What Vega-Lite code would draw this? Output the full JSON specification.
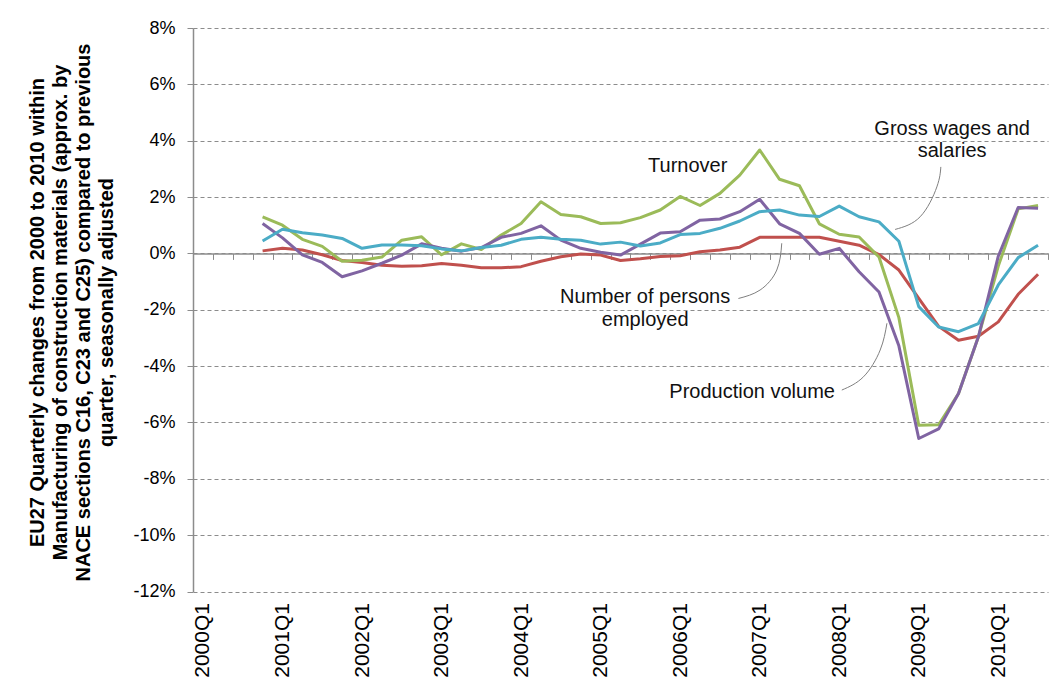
{
  "$schema": "https://vega.github.io/schema/vega-lite/v6.json",
  "width": 855,
  "height": 563.5,
  "autosize": {"type": "none"},
  "padding": {"left": 193, "top": 28, "right": 6, "bottom": 100.5},
  "background": "white",
  "config": {
    "view": {"stroke": null},
    "font": "Liberation Sans",
    "axis": {"labelFont": "Liberation Sans", "titleFont": "Liberation Sans", "labelColor": "#000000", "titleColor": "#000000"}
  },
  "datasets": {
    "series": [
      {"quarter": "2000Q4", "t": 3, "Turnover": 1.30, "Production volume": 1.06, "Gross wages and salaries": 0.44, "Number of persons employed": 0.09},
      {"quarter": "2001Q1", "t": 4, "Turnover": 1.00, "Production volume": 0.55, "Gross wages and salaries": 0.86, "Number of persons employed": 0.18},
      {"quarter": "2001Q2", "t": 5, "Turnover": 0.50, "Production volume": -0.05, "Gross wages and salaries": 0.73, "Number of persons employed": 0.12},
      {"quarter": "2001Q3", "t": 6, "Turnover": 0.25, "Production volume": -0.32, "Gross wages and salaries": 0.65, "Number of persons employed": -0.05},
      {"quarter": "2001Q4", "t": 7, "Turnover": -0.28, "Production volume": -0.83, "Gross wages and salaries": 0.53, "Number of persons employed": -0.25},
      {"quarter": "2002Q1", "t": 8, "Turnover": -0.24, "Production volume": -0.62, "Gross wages and salaries": 0.18, "Number of persons employed": -0.32},
      {"quarter": "2002Q2", "t": 9, "Turnover": -0.13, "Production volume": -0.35, "Gross wages and salaries": 0.30, "Number of persons employed": -0.42},
      {"quarter": "2002Q3", "t": 10, "Turnover": 0.47, "Production volume": -0.06, "Gross wages and salaries": 0.30, "Number of persons employed": -0.46},
      {"quarter": "2002Q4", "t": 11, "Turnover": 0.59, "Production volume": 0.34, "Gross wages and salaries": 0.27, "Number of persons employed": -0.44},
      {"quarter": "2003Q1", "t": 12, "Turnover": -0.05, "Production volume": 0.18, "Gross wages and salaries": 0.16, "Number of persons employed": -0.36},
      {"quarter": "2003Q2", "t": 13, "Turnover": 0.34, "Production volume": 0.08, "Gross wages and salaries": 0.09, "Number of persons employed": -0.42},
      {"quarter": "2003Q3", "t": 14, "Turnover": 0.14, "Production volume": 0.21, "Gross wages and salaries": 0.21, "Number of persons employed": -0.51},
      {"quarter": "2003Q4", "t": 15, "Turnover": 0.65, "Production volume": 0.57, "Gross wages and salaries": 0.29, "Number of persons employed": -0.51},
      {"quarter": "2004Q1", "t": 16, "Turnover": 1.06, "Production volume": 0.71, "Gross wages and salaries": 0.50, "Number of persons employed": -0.47},
      {"quarter": "2004Q2", "t": 17, "Turnover": 1.83, "Production volume": 0.98, "Gross wages and salaries": 0.57, "Number of persons employed": -0.28},
      {"quarter": "2004Q3", "t": 18, "Turnover": 1.38, "Production volume": 0.47, "Gross wages and salaries": 0.50, "Number of persons employed": -0.12},
      {"quarter": "2004Q4", "t": 19, "Turnover": 1.30, "Production volume": 0.18, "Gross wages and salaries": 0.47, "Number of persons employed": -0.02},
      {"quarter": "2005Q1", "t": 20, "Turnover": 1.06, "Production volume": 0.04, "Gross wages and salaries": 0.33, "Number of persons employed": -0.06},
      {"quarter": "2005Q2", "t": 21, "Turnover": 1.09, "Production volume": -0.06, "Gross wages and salaries": 0.40, "Number of persons employed": -0.25},
      {"quarter": "2005Q3", "t": 22, "Turnover": 1.27, "Production volume": 0.33, "Gross wages and salaries": 0.26, "Number of persons employed": -0.19},
      {"quarter": "2005Q4", "t": 23, "Turnover": 1.54, "Production volume": 0.72, "Gross wages and salaries": 0.37, "Number of persons employed": -0.11},
      {"quarter": "2006Q1", "t": 24, "Turnover": 2.02, "Production volume": 0.77, "Gross wages and salaries": 0.67, "Number of persons employed": -0.08},
      {"quarter": "2006Q2", "t": 25, "Turnover": 1.70, "Production volume": 1.18, "Gross wages and salaries": 0.71, "Number of persons employed": 0.06},
      {"quarter": "2006Q3", "t": 26, "Turnover": 2.13, "Production volume": 1.22, "Gross wages and salaries": 0.89, "Number of persons employed": 0.12},
      {"quarter": "2006Q4", "t": 27, "Turnover": 2.78, "Production volume": 1.48, "Gross wages and salaries": 1.15, "Number of persons employed": 0.22},
      {"quarter": "2007Q1", "t": 28, "Turnover": 3.67, "Production volume": 1.92, "Gross wages and salaries": 1.48, "Number of persons employed": 0.57},
      {"quarter": "2007Q2", "t": 29, "Turnover": 2.63, "Production volume": 1.05, "Gross wages and salaries": 1.54, "Number of persons employed": 0.57},
      {"quarter": "2007Q3", "t": 30, "Turnover": 2.40, "Production volume": 0.71, "Gross wages and salaries": 1.36, "Number of persons employed": 0.57},
      {"quarter": "2007Q4", "t": 31, "Turnover": 1.05, "Production volume": -0.03, "Gross wages and salaries": 1.31, "Number of persons employed": 0.57},
      {"quarter": "2008Q1", "t": 32, "Turnover": 0.68, "Production volume": 0.18, "Gross wages and salaries": 1.68, "Number of persons employed": 0.43},
      {"quarter": "2008Q2", "t": 33, "Turnover": 0.58, "Production volume": -0.65, "Gross wages and salaries": 1.30, "Number of persons employed": 0.29},
      {"quarter": "2008Q3", "t": 34, "Turnover": -0.13, "Production volume": -1.37, "Gross wages and salaries": 1.12, "Number of persons employed": -0.04},
      {"quarter": "2008Q4", "t": 35, "Turnover": -2.28, "Production volume": -3.28, "Gross wages and salaries": 0.43, "Number of persons employed": -0.59},
      {"quarter": "2009Q1", "t": 36, "Turnover": -6.10, "Production volume": -6.57, "Gross wages and salaries": -1.89, "Number of persons employed": -1.60},
      {"quarter": "2009Q2", "t": 37, "Turnover": -6.08, "Production volume": -6.23, "Gross wages and salaries": -2.61, "Number of persons employed": -2.59},
      {"quarter": "2009Q3", "t": 38, "Turnover": -4.97, "Production volume": -4.97, "Gross wages and salaries": -2.78, "Number of persons employed": -3.08},
      {"quarter": "2009Q4", "t": 39, "Turnover": -2.96, "Production volume": -2.96, "Gross wages and salaries": -2.49, "Number of persons employed": -2.94},
      {"quarter": "2010Q1", "t": 40, "Turnover": -0.45, "Production volume": -0.10, "Gross wages and salaries": -1.12, "Number of persons employed": -2.43},
      {"quarter": "2010Q2", "t": 41, "Turnover": 1.58, "Production volume": 1.63, "Gross wages and salaries": -0.15, "Number of persons employed": -1.45},
      {"quarter": "2010Q3", "t": 42, "Turnover": 1.70, "Production volume": 1.60, "Gross wages and salaries": 0.29, "Number of persons employed": -0.74}
    ],
    "labels": [
      {"label": "Turnover", "t": 24.38, "value": 3.10},
      {"label": "Gross wages and", "t": 37.68, "value": 4.41},
      {"label": "salaries", "t": 37.68, "value": 3.63},
      {"label": "Number of persons", "t": 22.24, "value": -1.55},
      {"label": "employed", "t": 22.24, "value": -2.37},
      {"label": "Production volume", "t": 27.62, "value": -4.92}
    ],
    "leaders": [
      {"leader": "wages", "k": 0, "t": 37.11, "value": 3.07},
      {"leader": "wages", "k": 1, "t": 36.91, "value": 2.36},
      {"leader": "wages", "k": 2, "t": 36.07, "value": 1.30},
      {"leader": "wages", "k": 3, "t": 34.81, "value": 0.85},
      {"leader": "persons", "k": 0, "t": 29.11, "value": 0.36},
      {"leader": "persons", "k": 1, "t": 28.86, "value": -0.59},
      {"leader": "persons", "k": 2, "t": 28.02, "value": -1.30},
      {"leader": "persons", "k": 3, "t": 26.93, "value": -1.60},
      {"leader": "production", "k": 0, "t": 32.13, "value": -4.85},
      {"leader": "production", "k": 1, "t": 33.22, "value": -4.38},
      {"leader": "production", "k": 2, "t": 34.06, "value": -3.43},
      {"leader": "production", "k": 3, "t": 34.40, "value": -2.48}
    ]
  },
  "resolve": {"axis": {"x": "independent"}},
  "layer": [
    {
      "data": {"name": "series"},
      "transform": [
        {"fold": ["Number of persons employed", "Turnover", "Production volume", "Gross wages and salaries"], "as": ["series", "value"]}
      ],
      "mark": {"type": "line", "strokeWidth": 3, "strokeJoin": "round"},
      "encoding": {
        "x": {
          "field": "t", "type": "quantitative",
          "scale": {"domain": [-0.5, 42.5], "nice": false, "zero": false},
          "axis": {
            "orient": "bottom", "title": null, "grid": false, "domain": false, "ticks": false,
            "values": [0, 4, 8, 12, 16, 20, 24, 28, 32, 36, 40],
            "labelExpr": "toString(2000 + datum.value / 4) + 'Q1'",
            "labelAngle": 270, "labelFontSize": 21, "labelPadding": 11
          }
        },
        "y": {
          "field": "value", "type": "quantitative",
          "scale": {"domain": [-12, 8], "nice": false, "zero": false},
          "axis": {
            "values": [-12, -10, -8, -6, -4, -2, 0, 2, 4, 6, 8],
            "labelExpr": "datum.value + '%'",
            "labelFontSize": 18, "labelPadding": 12,
            "tickSize": 6, "tickColor": "#8c8c8c", "domainColor": "#8c8c8c", "domainWidth": 1.5,
            "grid": true, "gridColor": "#8c8c8c", "gridDash": [4, 3], "gridWidth": 1,
            "title": ["EU27 Quarterly changes from 2000 to 2010 within", "Manufacturing of construction materials (approx. by", "NACE sections C16, C23 and C25) compared to previous", "quarter, seasonally adjusted"],
            "titleFontSize": 20, "titleFontWeight": "bold", "titleLineHeight": 23,
            "titleX": -156, "titleY": 284, "titleBaseline": "middle", "titleAlign": "center"
          }
        },
        "color": {
          "field": "series", "type": "nominal", "legend": null,
          "scale": {
            "domain": ["Number of persons employed", "Turnover", "Production volume", "Gross wages and salaries"],
            "range": ["#C0504D", "#9BBB59", "#8064A2", "#4BACC6"]
          }
        }
      }
    },
    {
      "data": {"name": "leaders"},
      "mark": {"type": "line", "interpolate": "natural", "stroke": "#7f7f7f", "strokeWidth": 1},
      "encoding": {
        "x": {
          "field": "t", "type": "quantitative",
          "axis": {
            "orient": "bottom", "offset": -338.1, "title": null, "labels": false, "grid": false,
            "domain": true, "domainColor": "#8c8c8c", "domainWidth": 1.5,
            "ticks": true, "tickColor": "#8c8c8c", "tickSize": 6, "tickWidth": 1,
            "values": [-0.5, 0.5, 1.5, 2.5, 3.5, 4.5, 5.5, 6.5, 7.5, 8.5, 9.5, 10.5, 11.5, 12.5, 13.5, 14.5, 15.5, 16.5, 17.5, 18.5, 19.5, 20.5, 21.5, 22.5, 23.5, 24.5, 25.5, 26.5, 27.5, 28.5, 29.5, 30.5, 31.5, 32.5, 33.5, 34.5, 35.5, 36.5, 37.5, 38.5, 39.5, 40.5, 41.5, 42.5]
          }
        },
        "y": {"field": "value", "type": "quantitative"},
        "detail": {"field": "leader"},
        "order": {"field": "k"}
      }
    },
    {
      "data": {"name": "labels"},
      "mark": {"type": "text", "align": "center", "baseline": "middle", "fontSize": 20, "font": "Liberation Sans", "color": "#111111"},
      "encoding": {
        "x": {"field": "t", "type": "quantitative", "axis": null},
        "y": {"field": "value", "type": "quantitative"},
        "text": {"field": "label"}
      }
    }
  ]
}
